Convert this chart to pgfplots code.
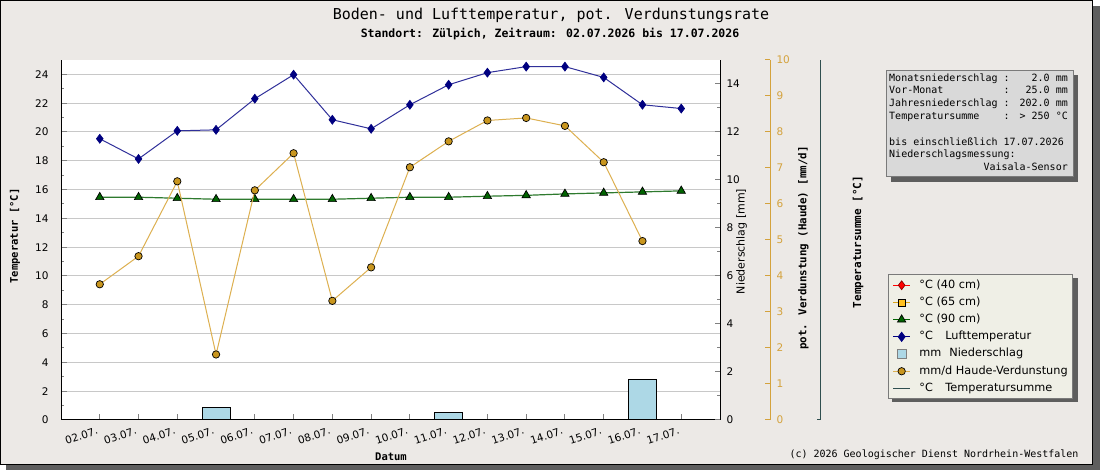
\documentclass[border=0pt]{standalone}
\usepackage{pgfplots}
\pgfplotsset{compat=1.18}
\usepackage{pgfplotstable}
\usepackage{fontspec}
\newfontfamily\dvs{DejaVu Sans}
\newfontfamily\dvm{DejaVu Sans Mono}
\definecolor{bg}{HTML}{ECE9E6}
\definecolor{shadowgray}{HTML}{5E5E5E}
\definecolor{gridgray}{HTML}{C8C8C8}
\definecolor{navyc}{HTML}{000080}
\definecolor{navyline}{HTML}{30309A}
\definecolor{greenc}{HTML}{006400}
\definecolor{greenline}{HTML}{2E7A2E}
\definecolor{goldmark}{HTML}{C9961E}
\definecolor{goldline}{HTML}{DDB050}
\definecolor{goldaxis}{HTML}{D4A23C}
\definecolor{barblue}{HTML}{ADD8E6}
\definecolor{slate}{HTML}{2F4F4F}
\definecolor{legfill}{HTML}{EFEFE6}
\definecolor{infofill}{HTML}{D9D9D9}
\definecolor{boxdraw}{HTML}{7A7A7A}
\definecolor{orange65}{HTML}{FFC020}

\pgfplotstableread{
idx luft t90
0  19.53 15.47
1  18.13 15.47
2  20.08 15.40
3  20.15 15.33
4  22.31 15.33
5  23.98 15.33
6  20.85 15.33
7  20.22 15.40
8  21.89 15.47
9  23.28 15.47
10 24.12 15.54
11 24.54 15.60
12 24.54 15.70
13 23.79 15.77
14 21.89 15.84
15 21.63 15.91
}\temps

\pgfplotstableread{
idx haude
0  3.77
1  4.55
2  6.63
3  1.82
4  6.38
5  7.41
6  3.31
7  4.24
8  7.02
9  7.74
10 8.32
11 8.39
12 8.17
13 7.16
14 4.97
}\haude

\pgfplotstableread{
idx ns
3  0.5
9  0.3
14 1.7
}\nied

\pgfplotsset{
  base/.style={
    at={(61pt,50pt)}, anchor=south west,
    width=659pt, height=360pt, scale only axis,
    xmin=-1, xmax=16, enlargelimits=false,
    /pgf/number format/assume math mode=true,
    tick label style={font=\dvs\fontsize{10.5}{12}\selectfont},
    axis line style={-, line width=1pt},
    tick style={line width=1pt},
  },
}

\newcommand{\infofont}{\dvm\fontsize{10}{12}\selectfont}

\begin{document}
\begin{tikzpicture}[x=1pt,y=1pt]
\useasboundingbox (0,0) rectangle (1100,470);
\fill[shadowgray] (6,0) rectangle (1100,464);
\filldraw[fill=bg, draw=black, line width=1pt] (0.5,5.5) rectangle (1092.5,469.5);
% legend shadow
\fill[shadowgray] (892.3,67.7) rectangle (1078.3,191.7);

% main temperature axis
\begin{axis}[base,
  axis background/.style={fill=white},
  axis x line*=bottom, axis y line*=left,
  ymin=0, ymax=25,
  ytick={0,2,...,24}, minor ytick={1,3,...,23},
  ymajorgrids, grid style={gridgray, line width=1pt},
  xtick={0,...,15},
  xticklabels={02.07.,03.07.,04.07.,05.07.,06.07.,07.07.,08.07.,09.07.,10.07.,11.07.,12.07.,13.07.,14.07.,15.07.,16.07.,17.07.},
  tick align=inside, major tick length=5.5pt, minor tick length=3.3pt,
  xticklabel style={rotate=18, anchor=north east, xshift=-2pt, yshift=-1.5pt},
  yticklabel style={xshift=-9pt},
  legend cell align=left,
  legend style={
    at={(1.2554,0.4047)}, anchor=north west,
    fill=legfill, draw=boxdraw, line width=1pt,
    font=\dvs\fontsize{11.3}{13}\selectfont,
    inner xsep=3.5pt, inner ysep=4.2pt,
    row sep=4.7pt,
    nodes={inner sep=1pt, text height=8pt, text depth=2.5pt},
    /tikz/every odd column/.append style={column sep=7.4pt},
  },
]
\addplot[greenline, line width=1.2pt, mark=triangle*, mark size=4.8pt,
  mark options={fill=greenc, draw=black, line width=0.7pt, solid}, forget plot]
  table[x=idx, y=t90] {\temps};
\addplot[navyline, line width=1pt, mark=diamond*, mark size=4.5pt,
  mark options={fill=navyc, draw=navyc, line width=0.6pt, solid}, forget plot]
  table[x=idx, y=luft] {\temps};

\addlegendimage{red, line width=1pt, mark=diamond*, mark size=4.4pt, mark options={fill=red, draw=red!55!black, line width=0.7pt}}
\addlegendentry{°C (40 cm)}
\addlegendimage{orange65!85!black, line width=1pt, mark=square*, mark size=3.6pt, mark options={fill=orange65, draw=black, line width=0.7pt}}
\addlegendentry{°C (65 cm)}
\addlegendimage{greenc, line width=1pt, mark=triangle*, mark size=4.8pt, mark options={fill=greenc, draw=black, line width=0.7pt}}
\addlegendentry{°C (90 cm)}
\addlegendimage{navyc, line width=1pt, mark=diamond*, mark size=4.4pt, mark options={fill=navyc, draw=navyc}}
\addlegendentry{\makebox[26pt][l]{°C}Lufttemperatur}
\addlegendimage{legend image code/.code={\draw[fill=barblue, draw=gray, line width=1pt] (4pt,-4.5pt) rectangle (13pt,4.5pt);}}
\addlegendentry{\makebox[30pt][l]{mm}Niederschlag}
\addlegendimage{goldline, line width=1pt, mark=*, mark size=3.7pt, mark options={fill=goldmark, draw=black, line width=0.7pt}}
\addlegendentry{mm/d Haude-Verdunstung}
\addlegendimage{slate, line width=1.6pt}
\addlegendentry{\makebox[26pt][l]{°C}Temperatursumme}
\end{axis}

% precipitation axis (right)
\begin{axis}[base,
  axis y line*=right, axis x line=none,
  ymin=0, ymax=15,
  ytick={0,2,...,14}, minor ytick={1,3,...,13},
  tick align=inside, major tick length=5pt, minor tick length=3.5pt,
  yticklabel style={xshift=3pt},
  ybar, bar width=28pt,
]
\addplot[ybar, fill=barblue, draw=black, line width=1pt, bar shift=0pt]
  table[x=idx, y=ns] {\nied};
\end{axis}

% evaporation data
\begin{axis}[base, ymin=0, ymax=10, hide axis]
\addplot[goldline, line width=1pt, mark=*, mark size=3.7pt,
  mark options={fill=goldmark, draw=black, line width=0.7pt, solid}]
  table[x=idx, y=haude] {\haude};
\end{axis}

% evaporation axis line
\begin{axis}[base, at={(111pt,50pt)},
  axis y line*=right, axis x line=none,
  ymin=0, ymax=10, ytick={0,...,10},
  tick align=inside, major tick length=5pt,
  y axis line style={goldaxis, line width=1pt},
  ytick style={goldaxis, line width=1pt},
  yticklabel style={goldaxis, xshift=3pt},
]
\end{axis}

% temperature sum axis line
\begin{axis}[base, at={(161pt,50pt)},
  axis y line*=right, axis x line=none,
  ymin=0, ymax=10, ytick={0}, yticklabels={},
  tick align=inside, major tick length=3pt,
  y axis line style={slate, line width=1pt},
  ytick style={slate, line width=1pt},
]
\end{axis}

% titles and labels
\node[font=\dvm\fontsize{15}{17}\selectfont] at (551,455) {Boden- und Lufttemperatur, pot. Verdunstungsrate};
\node[font=\dvm\bfseries\fontsize{11.5}{13}\selectfont] at (550,436) {Standort: Zülpich, Zeitraum: 02.07.2026 bis 17.07.2026};
\node[rotate=90, font=\dvm\bfseries\fontsize{10.5}{12}\selectfont] at (15,234) {Temperatur [°C]};
\node[font=\dvm\bfseries\fontsize{10.5}{12}\selectfont] at (391,13) {Datum};
\node[rotate=90, font=\dvs\fontsize{11}{13}\selectfont] at (741.7,228.5) {Niederschlag [mm]};
\node[rotate=90, font=\dvm\bfseries\fontsize{10.8}{12}\selectfont] at (803.5,222) {pot. Verdunstung (Haude) [mm/d]};
\node[rotate=90, font=\dvm\bfseries\fontsize{11}{12}\selectfont] at (858,228) {Temperatursumme [°C]};
\node[font=\dvm\fontsize{10}{12}\selectfont] at (934,15) {(c) 2026 Geologischer Dienst Nordrhein-Westfalen};

% info box
\fill[shadowgray] (891,288) rectangle (1078,395);
\filldraw[fill=infofill, draw=boxdraw, line width=1pt] (886.5,293.5) rectangle (1073.5,399.5);
\begin{scope}[every node/.style={inner sep=0pt, font=\infofont}]
\node[anchor=mid west] at (889,391) {Monatsniederschlag :};
\node[anchor=mid east] at (1068,391) {2.0 mm};
\node[anchor=mid west] at (889,378.2) {Vor-Monat~~~~~~~~~~:};
\node[anchor=mid east] at (1068,378.2) {25.0 mm};
\node[anchor=mid west] at (889,365.4) {Jahresniederschlag :};
\node[anchor=mid east] at (1068,365.4) {202.0 mm};
\node[anchor=mid west] at (889,352.6) {Temperatursumme~~~~:};
\node[anchor=mid east] at (1068,352.6) {> 250 °C};
\node[anchor=mid west] at (889,327) {bis einschließlich 17.07.2026};
\node[anchor=mid west] at (889,314.2) {Niederschlagsmessung:};
\node[anchor=mid east] at (1068,301.4) {Vaisala-Sensor};
\end{scope}
\end{tikzpicture}
\end{document}
